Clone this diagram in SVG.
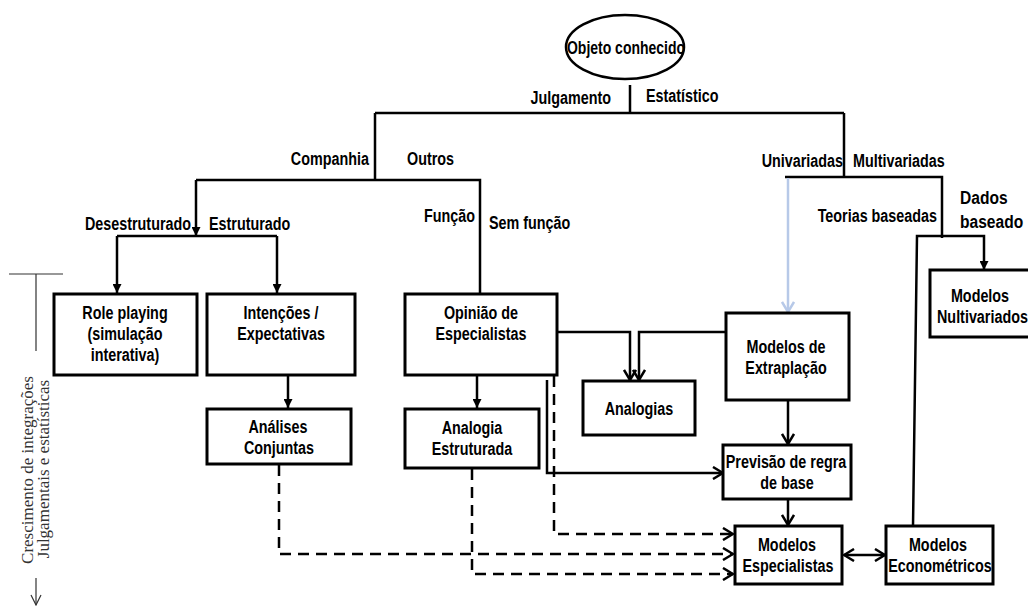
<svg xmlns="http://www.w3.org/2000/svg" width="1028" height="607" viewBox="0 0 1028 607">
<style>
.t{font-family:"Liberation Sans","Arial",sans-serif;font-weight:bold;font-size:17.5px;fill:#000}
.c{text-anchor:middle}
.e{text-anchor:end}
.box{fill:#fff;stroke:#000;stroke-width:3}
.ln{fill:none;stroke:#000;stroke-width:2.5}
.ds{fill:none;stroke:#000;stroke-width:2.5;stroke-dasharray:11 7}
.thin{fill:none;stroke:#333;stroke-width:1.2}
.side{font-family:"Liberation Serif","Times New Roman",serif;font-size:17px;fill:#333;text-anchor:middle}
</style>
<defs>
<marker id="tri" viewBox="0 0 10 10" refX="10" refY="5" markerWidth="10" markerHeight="9" markerUnits="userSpaceOnUse" orient="auto"><path d="M0,0 L10,5 L0,10 z" fill="#000"/></marker>
<marker id="vee" viewBox="0 0 12 14" refX="11" refY="7" markerWidth="12" markerHeight="14" markerUnits="userSpaceOnUse" orient="auto-start-reverse"><path d="M1,1 L11,7 L1,13" fill="none" stroke="#000" stroke-width="2.5"/></marker>
<marker id="veeb" viewBox="0 0 12 14" refX="11" refY="7" markerWidth="12" markerHeight="14" markerUnits="userSpaceOnUse" orient="auto"><path d="M1,1 L11,7 L1,13" fill="none" stroke="#b7c9e8" stroke-width="2.5"/></marker>
<marker id="thinv" viewBox="0 0 12 12" refX="11" refY="6" markerWidth="12" markerHeight="12" markerUnits="userSpaceOnUse" orient="auto"><path d="M1,1 L11,6 L1,11" fill="none" stroke="#333" stroke-width="1.2"/></marker>
</defs>

<g id="connectors">
<path class="ln" d="M630,85 V113 M375,113 H844"/>
<path class="ln" d="M375,113 V180 M196,180 H480 V295"/>
<path class="ln" d="M196,180 V236" marker-end="url(#tri)"/>
<path class="ln" d="M117,236 H277"/>
<path class="ln" d="M117,236 V293" marker-end="url(#tri)"/>
<path class="ln" d="M277,236 V293" marker-end="url(#tri)"/>
<path class="ln" d="M844,113 V177 M785,177 H942 V238"/>
<path d="M788,178 V312" fill="none" stroke="#b7c9e8" stroke-width="2.5" marker-end="url(#veeb)"/>
<path class="ln" d="M913,526 L917,236 H984 V270" marker-end="url(#tri)"/>
<path class="ln" d="M288,375 V408" marker-end="url(#tri)"/>
<path class="ln" d="M477,372 V408" marker-end="url(#tri)"/>
<path class="ln" d="M557,332 H630 V380" marker-end="url(#vee)"/>
<path class="ln" d="M726,332 H639 V380" marker-end="url(#vee)"/>
<path class="ln" d="M788,400 V444" marker-end="url(#vee)"/>
<path class="ln" d="M788,499 V525" marker-end="url(#vee)"/>
<path class="ln" d="M844,555 H885" marker-start="url(#vee)" marker-end="url(#vee)"/>
<path class="ln" d="M547,380 V473 H723" marker-end="url(#vee)"/>
<path class="ds" d="M554,376 V534 H733" marker-end="url(#vee)"/>
<path class="ds" d="M279,465 V554 H733" marker-end="url(#vee)"/>
<path class="ds" d="M472,469 V574 H733" marker-end="url(#vee)"/>
</g>

<g id="labels">
<text class="t e" transform="translate(611,104) scale(.82,1)">Julgamento</text>
<text class="t" transform="translate(646,102) scale(.82,1)">Estatístico</text>
<text class="t e" transform="translate(369,165) scale(.82,1)">Companhia</text>
<text class="t" transform="translate(407,165) scale(.82,1)">Outros</text>
<text class="t e" transform="translate(191,230) scale(.82,1)">Desestruturado</text>
<text class="t" transform="translate(209,230) scale(.82,1)">Estruturado</text>
<text class="t e" transform="translate(475,222) scale(.82,1)">Função</text>
<text class="t" transform="translate(489,229) scale(.82,1)">Sem função</text>
<text class="t e" transform="translate(843,167) scale(.82,1)">Univariadas</text>
<text class="t" transform="translate(853,167) scale(.82,1)">Multivariadas</text>
<text class="t e" transform="translate(937,222) scale(.82,1)">Teorias baseadas</text>
<text class="t" transform="translate(960,204) scale(.82,1)" style="font-size:19px">Dados</text>
<text class="t" transform="translate(960,228) scale(.82,1)" style="font-size:19px">baseado</text>
</g>

<g id="scale">
<path class="thin" d="M9,274 H63 M36,274 V351"/>
<path class="thin" d="M36,578 V605" marker-end="url(#thinv)"/>
<text class="side" transform="translate(33,470) rotate(-90)">Crescimento de integrações</text>
<text class="side" transform="translate(49,469) rotate(-90)">Julgamentais e estatísticas</text>
</g>

<g id="objeto">
<ellipse cx="625" cy="47" rx="59" ry="32" fill="#fff" stroke="#000" stroke-width="2.5"/>
<text class="t c" transform="translate(626,54) scale(.8,1)">Objeto conhecido</text>
</g>

<g id="role-playing">
<rect class="box" x="54" y="294" width="143" height="81"/>
<text class="t c" transform="translate(125,319) scale(.82,1)">Role playing</text>
<text class="t c" transform="translate(125,340) scale(.82,1)">(simulação</text>
<text class="t c" transform="translate(125,361) scale(.82,1)">interativa)</text>
</g>

<g id="intencoes">
<rect class="box" x="207" y="294" width="148" height="81"/>
<text class="t c" transform="translate(281,319) scale(.82,1)">Intenções /</text>
<text class="t c" transform="translate(281,340) scale(.82,1)">Expectativas</text>
</g>

<g id="opiniao">
<rect class="box" x="405" y="294" width="152" height="81"/>
<text class="t c" transform="translate(481,319) scale(.82,1)">Opinião de</text>
<text class="t c" transform="translate(481,340) scale(.82,1)">Especialistas</text>
</g>

<g id="analises">
<rect class="box" x="207" y="409" width="144" height="55"/>
<text class="t c" transform="translate(278,433) scale(.82,1)">Análises</text>
<text class="t c" transform="translate(279,454) scale(.82,1)">Conjuntas</text>
</g>

<g id="analogia-estruturada">
<rect class="box" x="405" y="409" width="134" height="59"/>
<text class="t c" transform="translate(472,434) scale(.82,1)">Analogia</text>
<text class="t c" transform="translate(472,455) scale(.82,1)">Estruturada</text>
</g>

<g id="analogias">
<rect class="box" x="583" y="381" width="112" height="54"/>
<text class="t c" transform="translate(639,415) scale(.82,1)">Analogias</text>
</g>

<g id="extrapolacao">
<rect class="box" x="726" y="313" width="123" height="87"/>
<text class="t c" transform="translate(786,353) scale(.82,1)">Modelos de</text>
<text class="t c" transform="translate(786,374) scale(.82,1)">Extraplação</text>
</g>

<g id="previsao">
<rect class="box" x="723" y="445" width="128" height="54"/>
<text class="t c" transform="translate(786,468) scale(.82,1)">Previsão de regra</text>
<text class="t c" transform="translate(787,489) scale(.82,1)">de base</text>
</g>

<g id="especialistas">
<rect class="box" x="735" y="526" width="107" height="58"/>
<text class="t c" transform="translate(787,551) scale(.82,1)">Modelos</text>
<text class="t c" transform="translate(788,572) scale(.82,1)">Especialistas</text>
</g>

<g id="econometricos">
<rect class="box" x="886" y="526" width="107" height="58"/>
<text class="t c" transform="translate(938,551) scale(.82,1)">Modelos</text>
<text class="t c" transform="translate(940,572) scale(.82,1)">Econométricos</text>
</g>

<g id="multivariados">
<rect class="box" x="930" y="270" width="110" height="67"/>
<text class="t c" transform="translate(980,302) scale(.82,1)">Modelos</text>
<text class="t" transform="translate(937,323) scale(.82,1)">Nultivariados</text>
</g>
</svg>
